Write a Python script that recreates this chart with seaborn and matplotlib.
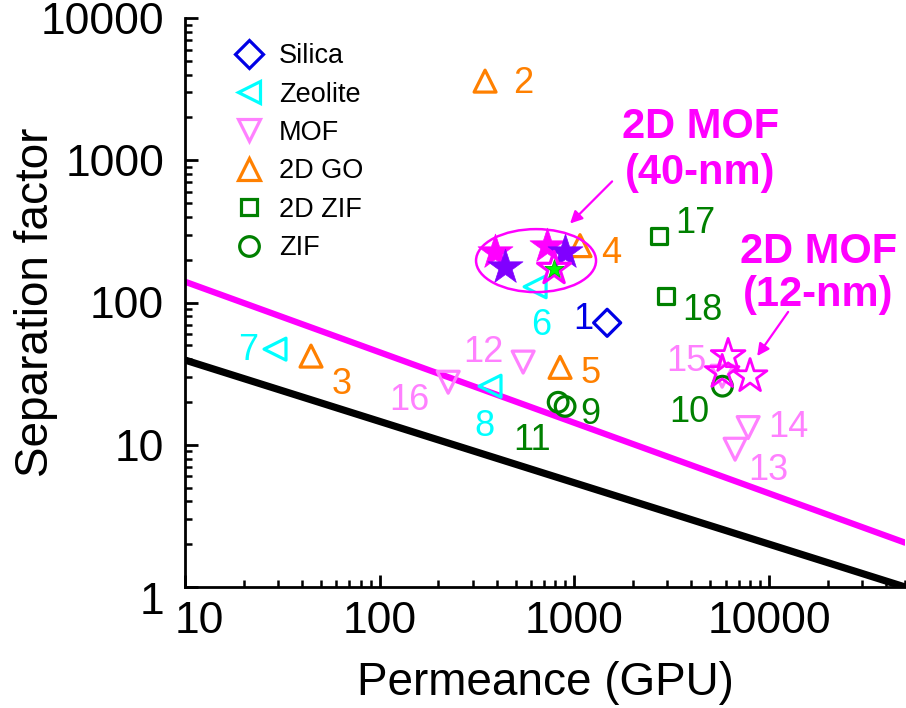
import numpy as np
import matplotlib
matplotlib.use("Agg")
import matplotlib.pyplot as plt
import matplotlib.transforms as mtransforms
from matplotlib.patches import Ellipse
from matplotlib.lines import Line2D
from matplotlib.ticker import FixedLocator, FixedFormatter, LogLocator, NullFormatter
import seaborn as sns

# ---------------- data ----------------
silica_x = [1475]
silica_y = [72]
silica_lab = ["1"]

zeolite_x = [629, 29, 369]
zeolite_y = [129, 47, 25.8]
zeolite_lab = ["6", "7", "8"]

mof_x = [546, 6700, 7820, 5750, 225]
mof_y = [38.1, 9.3, 13.2, 30.3, 27.5]
mof_lab = ["12", "13", "14", "15", "16"]

go_x = [348, 44.4, 1070, 845]
go_y = [3600, 42, 251, 35]
go_lab = ["2", "3", "4", "5"]

zif2d_x = [2730, 2965]
zif2d_y = [295, 111]
zif2d_lab = ["17", "18"]

zif_x = [897, 5770, 826]
zif_y = [18.6, 25.8, 19.9]
zif_lab = ["9", "10", "11"]

# 2D MOF membranes (this work)
mof40_x = [392, 725]
mof40_y = [228, 251]
mof40b_x = [441, 897]
mof40b_y = [178, 228]
mof40g_x = [787]
mof40g_y = [173]
mof12_x = [6170, 5750, 8000]
mof12_y = [42, 32.4, 30.3]

# upper-bound lines
bound_x = [10, 50000]
bound_black_y = [39.4, 1.0]
bound_magenta_y = [140, 2.05]

# label offsets (pixels) for the reference numbers
lab_offsets = {
    "1": (-24, 6), "2": (38, 1), "3": (31, -25), "4": (31, -5), "5": (31, -3),
    "6": (6, -36), "7": (-27, 2), "8": (-6, -37), "9": (25, -5), "10": (-33, -23),
    "11": (-26, -35), "12": (-40, 13), "13": (33, -18), "14": (40, 3),
    "15": (-36, 18), "16": (-39, -15), "17": (36, 15), "18": (36, -11),
}

C_SILICA = "#0000E6"
C_ZEOLITE = "#00FFFF"
C_MOF = "#FF80FF"
C_GO = "#FF8000"
C_ZIF = "#008000"
C_MAG = "#FF00FF"
C_PURPLE = "#8000FF"

# ---------------- figure ----------------
sns.set_theme(style="ticks")
plt.rcParams['font.family'] = ['Liberation Sans', 'DejaVu Sans']

fig = plt.figure(figsize=(9.06, 7.08), dpi=100)
W, H = 906, 708
ax = fig.add_axes([185 / W, 1 - 587 / H, 720 / W, 569 / H])
ax.set_xscale("log")
ax.set_yscale("log")
ax.set_xlim(10, 50000)
ax.set_ylim(1, 10000)

sns.lineplot(x=bound_x, y=bound_black_y, color="black", lw=5.2, ax=ax, zorder=2)
sns.lineplot(x=bound_x, y=bound_magenta_y, color=C_MAG, lw=4.5, ax=ax, zorder=2)

groups = [
    (silica_x, silica_y, silica_lab, "D", 190, C_SILICA, "Silica"),
    (zeolite_x, zeolite_y, zeolite_lab, "<", 250, C_ZEOLITE, "Zeolite"),
    (mof_x, mof_y, mof_lab, "v", 250, C_MOF, "MOF"),
    (go_x, go_y, go_lab, "^", 250, C_GO, "2D GO"),
    (zif2d_x, zif2d_y, zif2d_lab, "s", 130, C_ZIF, "2D ZIF"),
    (zif_x, zif_y, zif_lab, "o", 200, C_ZIF, "ZIF"),
]

handles = []
for xs, ys, labs, mk, s, c, name in groups:
    sns.scatterplot(x=xs, y=ys, marker=mk, s=s, facecolor="none", edgecolor=c,
                    linewidth=2.3, ax=ax, zorder=3, clip_on=False)
    for x, y, t in zip(xs, ys, labs):
        dx, dy = lab_offsets[t]
        ax.annotate(t, (x, y), xytext=(dx, dy - 3), textcoords="offset pixels",
                    ha="center", va="center", fontsize=26, color=c, zorder=4)
    handles.append(Line2D([], [], linestyle="none", marker=mk,
                          markersize=np.sqrt(s), markerfacecolor="none",
                          markeredgecolor=c, markeredgewidth=2.3, label=name))

# 2D MOF (40-nm) stars
sns.scatterplot(x=mof40_x, y=mof40_y, marker="*", s=700, color=C_MAG,
                edgecolor=C_MAG, linewidth=0.5, ax=ax, zorder=5)
sns.scatterplot(x=mof40b_x, y=mof40b_y, marker="*", s=700, color=C_PURPLE,
                edgecolor=C_PURPLE, linewidth=0.5, ax=ax, zorder=5)
sns.scatterplot(x=mof40g_x, y=mof40g_y, marker="*", s=620, facecolor="none",
                edgecolor=C_MAG, linewidth=2.3, ax=ax, zorder=6)
sns.scatterplot(x=mof40g_x, y=mof40g_y, marker="*", s=200, color="#00FF00",
                edgecolor="#00B000", linewidth=0.6, ax=ax, zorder=7)
# 2D MOF (12-nm) stars
sns.scatterplot(x=mof12_x, y=mof12_y, marker="*", s=650, facecolor="none",
                edgecolor=C_MAG, linewidth=2.0, ax=ax, zorder=6)

# ellipse around the 40-nm membranes (center in data units, size in axes fraction)
ex, ey = 636, 197
exf = np.log10(ex / 10) / np.log10(50000 / 10)
eyf = np.log10(ey) / 4
ax.add_patch(Ellipse((exf, eyf), 120 / 720, 63 / 569, transform=ax.transAxes,
                     fill=False, edgecolor=C_MAG, lw=1.8, zorder=6))

# annotations
ax.text(4430, 1175, "2D MOF\n(40-nm)", ha="center", va="center", fontsize=30,
        fontweight="bold", color=C_MAG, linespacing=1.2, zorder=8)
ax.annotate("", xy=(951, 359), xytext=(1564, 710),
            arrowprops=dict(arrowstyle="-|>", color=C_MAG, lw=1.6,
                            mutation_scale=18, shrinkA=0, shrinkB=0), zorder=8)
ax.text(17900, 160, "2D MOF\n(12-nm)", ha="center", va="center", fontsize=30,
        fontweight="bold", color=C_MAG, linespacing=1.1, zorder=8)
ax.annotate("", xy=(8700, 42), xytext=(12550, 85.9),
            arrowprops=dict(arrowstyle="-|>", color=C_MAG, lw=1.6,
                            mutation_scale=18, shrinkA=0, shrinkB=0), zorder=8)

# legend
leg = ax.legend(handles=handles, loc="upper left", bbox_to_anchor=(0.044, 0.975),
                frameon=False, fontsize=19.5, labelspacing=0.46, handletextpad=0.3,
                handlelength=1.6, borderaxespad=0)
for t in leg.get_texts():
    t.set_color("black")

# axes styling
for side in ["top", "right"]:
    ax.spines[side].set_visible(False)
for side in ["left", "bottom"]:
    ax.spines[side].set_linewidth(2.0)
    ax.spines[side].set_color("black")

xt = [10, 100, 1000, 10000]
yt = [1, 10, 100, 1000, 10000]
ax.xaxis.set_major_locator(FixedLocator(xt))
ax.xaxis.set_major_formatter(FixedFormatter([str(v) for v in xt]))
ax.yaxis.set_major_locator(FixedLocator(yt))
ax.yaxis.set_major_formatter(FixedFormatter([str(v) for v in yt]))
ax.xaxis.set_minor_locator(LogLocator(base=10, subs=np.arange(2, 10)))
ax.yaxis.set_minor_locator(LogLocator(base=10, subs=np.arange(2, 10)))
ax.xaxis.set_minor_formatter(NullFormatter())
ax.yaxis.set_minor_formatter(NullFormatter())
ax.tick_params(which="major", direction="in", length=9, width=2, labelsize=32,
               colors="black")
ax.tick_params(which="minor", direction="in", length=5, width=1.8, colors="black")
ax.tick_params(axis="x", which="major", pad=10)
ax.tick_params(axis="y", which="major", pad=15)

ax.set_xlabel("Permeance (GPU)", fontsize=33, color="black", labelpad=14)
ax.set_ylabel("Separation factor", fontsize=33, color="black")
ax.yaxis.set_label_coords(-0.176, 0.5)
ax.grid(False)

# nudge the corner tick labels apart
xt0 = ax.xaxis.get_major_ticks()[0].label1
xt0.set_transform(xt0.get_transform() + mtransforms.ScaledTranslation(10 / 72, 0, fig.dpi_scale_trans))
yt0 = ax.yaxis.get_major_ticks()[0].label1
yt0.set_transform(yt0.get_transform() + mtransforms.ScaledTranslation(0, -8 / 72, fig.dpi_scale_trans))

fig.savefig("out.png", dpi=100, facecolor="white")
